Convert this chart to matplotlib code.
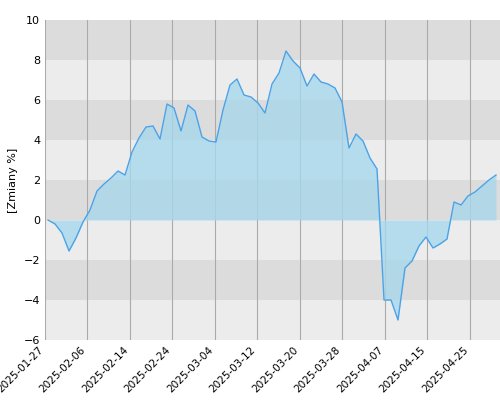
import matplotlib
matplotlib.use("Agg")
import matplotlib.pyplot as plt
import numpy as np

tick_labels = ["2025-01-27", "2025-02-06", "2025-02-14", "2025-02-24", "2025-03-04",
               "2025-03-12", "2025-03-20", "2025-03-28", "2025-04-07", "2025-04-15",
               "2025-04-25"]
values = [0, -0.2, -0.65, -1.55, -0.9, -0.1, 0.5, 1.45, 1.8, 2.1, 2.45, 2.25, 3.4, 4.1,
          4.65, 4.7, 4.05, 5.8, 5.6, 4.45, 5.75, 5.45, 4.15, 3.95, 3.9, 5.5, 6.75, 7.05,
          6.25, 6.15, 5.85, 5.35, 6.8, 7.35, 8.45, 7.95, 7.6, 6.7, 7.3, 6.9, 6.8, 6.6,
          5.9, 3.6, 4.3, 3.95, 3.1, 2.55, -4.0, -4.0, -5.0, -2.4, -2.05, -1.3, -0.85,
          -1.4, -1.2, -0.95, 0.9, 0.75, 1.2, 1.4, 1.7, 2.0, 2.25]

x = np.arange(len(values))
y = np.array(values)

fig = plt.figure(figsize=(5, 4), dpi=100)
ax = fig.add_axes([0.09, 0.15, 0.91, 0.80])

for lo in range(-6, 10, 2):
    dark = ((lo - 8) // 2) % 2 == 0
    ax.axhspan(lo, lo + 2, color="#dcdcdc" if dark else "#ececec", zorder=0, lw=0)

ticks = -0.43 + 6.07 * np.arange(len(tick_labels))
for t in ticks:
    ax.axvline(t, color="#aaaaaa", lw=0.8, zorder=1)

ax.fill_between(x, y, 0, color="#a8d8ec", alpha=0.8, zorder=2, lw=0)
ax.plot(x, y, color="#4aa3e8", lw=1, zorder=3)

ax.set_xlim(-0.43, 64.57)
ax.set_ylim(-6, 10)
ax.set_yticks(range(-6, 11, 2))
ax.set_xticks(ticks)
ax.set_xticklabels(tick_labels, rotation=45, ha="right", fontsize=7.5)
ax.tick_params(axis="y", labelsize=8, length=0)
ax.tick_params(axis="x", length=0)
ax.set_ylabel("[Zmiany %]", fontsize=8)
for s in ax.spines.values():
    s.set_visible(False)

fig.savefig("out.png")
